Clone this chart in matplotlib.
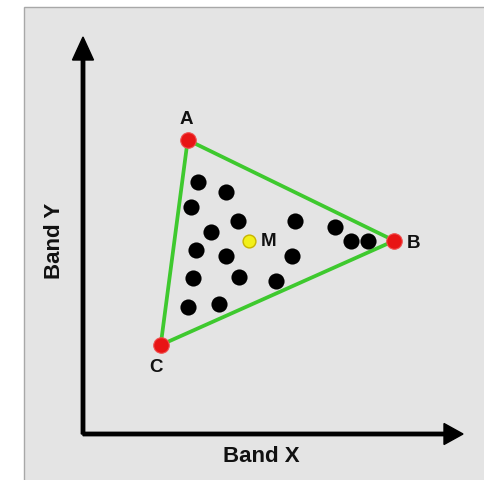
import matplotlib
matplotlib.use("Agg")
import matplotlib.pyplot as plt
from matplotlib.patches import Rectangle

plt.rcParams['font.family'] = ['Liberation Sans', 'DejaVu Sans']

# Endmember spectra (vertices of the simplex) in band X / band Y space
vertex_names = ["A", "B", "C"]
vertex_x = [104.7, 311.3, 77.7]
vertex_y = [294.0, 193.3, 89.0]

# Mean of the pixel cloud
mean_name = "M"
mean_x = 166.0
mean_y = 193.3

# Mixed pixels inside the simplex
pixel_x = [114.7, 143.0, 107.7, 155.3, 212.0, 127.7, 252.0, 268.0, 285.3,
           112.7, 143.0, 208.7, 110.3, 156.0, 193.0, 104.7, 136.0]
pixel_y = [251.7, 242.3, 227.3, 213.3, 213.3, 201.7, 207.3, 192.7, 193.3,
           184.0, 178.3, 177.7, 155.7, 157.3, 153.3, 126.7, 130.0]

x_label = "Band X"
y_label = "Band Y"

W, H = 485, 481
fig = plt.figure(figsize=(W / 100, H / 100), dpi=100, facecolor="white")

ax = fig.add_axes([0, 0, 1, 1])
ax.set_facecolor("none")
ax.set_xlim(-83, W - 83)
ax.set_ylim(-46, H - 46)
ax.axis("off")

# light grey panel behind the diagram
ax.add_patch(Rectangle((24 / W, -0.01), (W - 24) / W + 0.01, (H - 8) / H + 0.01,
                       transform=ax.transAxes, facecolor="#e4e4e4",
                       edgecolor="#a8a8a8", linewidth=1.0, zorder=0,
                       clip_on=False))

# coordinate axes with arrowheads
ax.arrow(0, 0, 0, 397, width=3.4, head_width=21, head_length=23,
         length_includes_head=True, color="black", zorder=2)
ax.arrow(0, 0, 380, 0, width=3.4, head_width=21, head_length=19,
         length_includes_head=True, color="black", zorder=2)

# simplex edges
tri_x = vertex_x + [vertex_x[0]]
tri_y = vertex_y + [vertex_y[0]]
ax.plot(tri_x, tri_y, color="#3ec92e", linewidth=2.7, zorder=3,
        solid_joinstyle="round")

# mixed pixels
ax.scatter(pixel_x, pixel_y, s=135, color="black", linewidths=0, zorder=4)

# endmembers
ax.scatter(vertex_x, vertex_y, s=125, color="#e81414", edgecolors="#f05050",
           linewidths=0.8, zorder=5)

# mean
ax.scatter([mean_x], [mean_y], s=85, color="#f2f01a", edgecolors="#c8b400",
           linewidths=1.0, zorder=5)

label_style = dict(fontsize=13.5, fontweight="bold", ha="center",
                   va="center", color="#111111", zorder=6)
offsets = {"A": (-1, 21), "B": (19, -1.5), "C": (-5, -22)}
for name, x, y in zip(vertex_names, vertex_x, vertex_y):
    dx, dy = offsets[name]
    ax.text(x + dx, y + dy, name, **label_style)
ax.text(mean_x + 20, mean_y + 0.5, mean_name, **label_style)

ax.text(178.7, -22, x_label, fontsize=16, fontweight="bold", ha="center",
        va="center", color="#111111")
ax.text(-28, 194.3, y_label, fontsize=16, fontweight="bold", ha="center",
        va="center", rotation=90, color="#111111")

fig.savefig("out.png", dpi=100, facecolor="white")
